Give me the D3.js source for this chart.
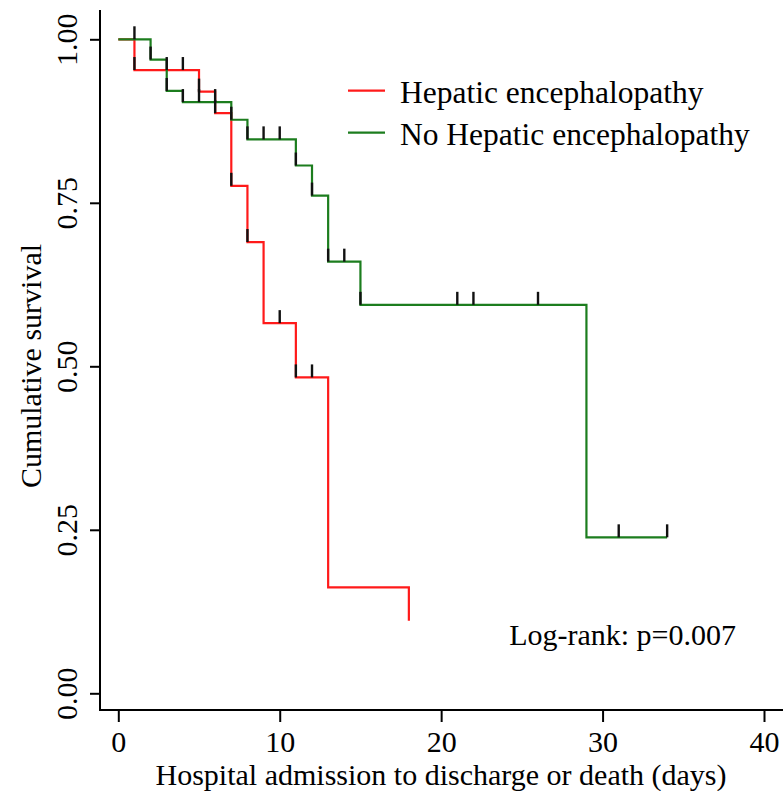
<!DOCTYPE html>
<html>
<head>
<meta charset="utf-8">
<script src="https://cdn.jsdelivr.net/npm/d3@7"></script>
<style>
  body { margin: 0; background: #fff; }
  svg text { font-family: "Liberation Serif", "Times New Roman", serif; fill: #000; }
</style>
</head>
<body>
<div id="chart"></div>
<script>
// Kaplan-Meier steps
var heTimes = [0, 1, 5, 6, 7, 8, 9, 11, 13, 18],
    heSurv = [1, 0.953, 0.920, 0.887, 0.776, 0.690, 0.566, 0.483, 0.162, 0.111],
    heCensor = [1, 3, 4, 5, 6, 7, 8, 10, 11, 12];

var noTimes = [0, 2, 3, 4, 7, 8, 11, 12, 13, 15, 29, 34],
    noSurv = [1, 0.969, 0.921, 0.904, 0.877, 0.847, 0.807, 0.761, 0.660, 0.594, 0.2385, 0.2385],
    noCensor = [1, 2, 3, 4, 5, 6, 7, 8, 9, 10, 11, 12, 13, 14, 15, 21, 22, 26, 31, 34];

var xTicks = [0, 10, 20, 30, 40],
    yTicks = [0, 0.25, 0.5, 0.75, 1];

var legendLabels = ["Hepatic encephalopathy", "No Hepatic encephalopathy"],
    colors = ["#ff1a1a", "#1c7d1e"];

var width = 783, height = 791;

var svg = d3.select("#chart").append("svg")
    .attr("width", width).attr("height", height);

var x = d3.scaleLinear().domain([0, 40]).range([118.3, 764]),
    y = d3.scaleLinear().domain([0, 1]).range([693.3, 39.3]);

// axes
var xAxis = svg.append("g")
    .attr("transform", "translate(0,710)")
    .call(d3.axisBottom(x).tickValues(xTicks).tickSize(12).tickSizeOuter(0).tickFormat(d3.format("d")));
xAxis.select(".domain").remove();
xAxis.selectAll("line").attr("stroke-width", 2);
xAxis.selectAll("text").attr("y", 41.5).attr("dy", null).style("font-size", "30px");

var yAxis = svg.append("g")
    .attr("transform", "translate(100,0)")
    .call(d3.axisLeft(y).tickValues(yTicks).tickSize(10).tickSizeOuter(0).tickFormat(d3.format(".2f")));
yAxis.select(".domain").remove();
yAxis.selectAll("line").attr("stroke-width", 2);
yAxis.selectAll("text")
    .attr("x", 0).attr("y", -23).attr("dy", null)
    .attr("text-anchor", "middle")
    .attr("transform", "rotate(-90)")
    .style("font-size", "30px");

svg.append("path")
    .attr("d", "M100,10V710H783")
    .attr("fill", "none").attr("stroke", "#000").attr("stroke-width", 2);

// curves
var line = d3.line()
    .x(function (d) { return x(d[0]); })
    .y(function (d) { return y(d[1]); })
    .curve(d3.curveStepAfter);

function survAt(times, surv, t) {
    var i = d3.bisectRight(times, t) - 1;
    return surv[i];
}

var groups = [
    {times: heTimes, surv: heSurv, censor: heCensor, color: colors[0]},
    {times: noTimes, surv: noSurv, censor: noCensor, color: colors[1]}
];

groups.forEach(function (g) {
    svg.append("path")
        .datum(d3.zip(g.times, g.surv))
        .attr("d", line)
        .attr("fill", "none")
        .attr("stroke", g.color)
        .attr("stroke-width", 2.2);
});

groups.forEach(function (g) {
    svg.selectAll(null)
        .data(g.censor)
        .enter().append("line")
        .attr("x1", function (d) { return x(d); })
        .attr("x2", function (d) { return x(d); })
        .attr("y1", function (d) { return y(survAt(g.times, g.surv, d)); })
        .attr("y2", function (d) { return y(survAt(g.times, g.surv, d)) - 13; })
        .attr("stroke", "#111")
        .attr("stroke-width", 2.4);
});

// legend
legendLabels.forEach(function (lab, i) {
    var ly = 90.7 + i * 42;
    svg.append("line")
        .attr("x1", 348).attr("x2", 385)
        .attr("y1", ly).attr("y2", ly)
        .attr("stroke", colors[i]).attr("stroke-width", 2.2);
    svg.append("text")
        .attr("x", 400).attr("y", ly + 12.5)
        .style("font-size", "31.5px")
        .text(lab);
});

svg.append("text")
    .attr("x", 736).attr("y", 645)
    .attr("text-anchor", "end")
    .style("font-size", "30px")
    .text("Log-rank: p=0.007");

// axis titles
svg.append("text")
    .attr("x", 441).attr("y", 785)
    .attr("text-anchor", "middle")
    .style("font-size", "30px")
    .text("Hospital admission to discharge or death (days)");

svg.append("text")
    .attr("transform", "translate(41,366) rotate(-90)")
    .attr("text-anchor", "middle")
    .style("font-size", "30px")
    .text("Cumulative survival");
</script>
</body>
</html>
